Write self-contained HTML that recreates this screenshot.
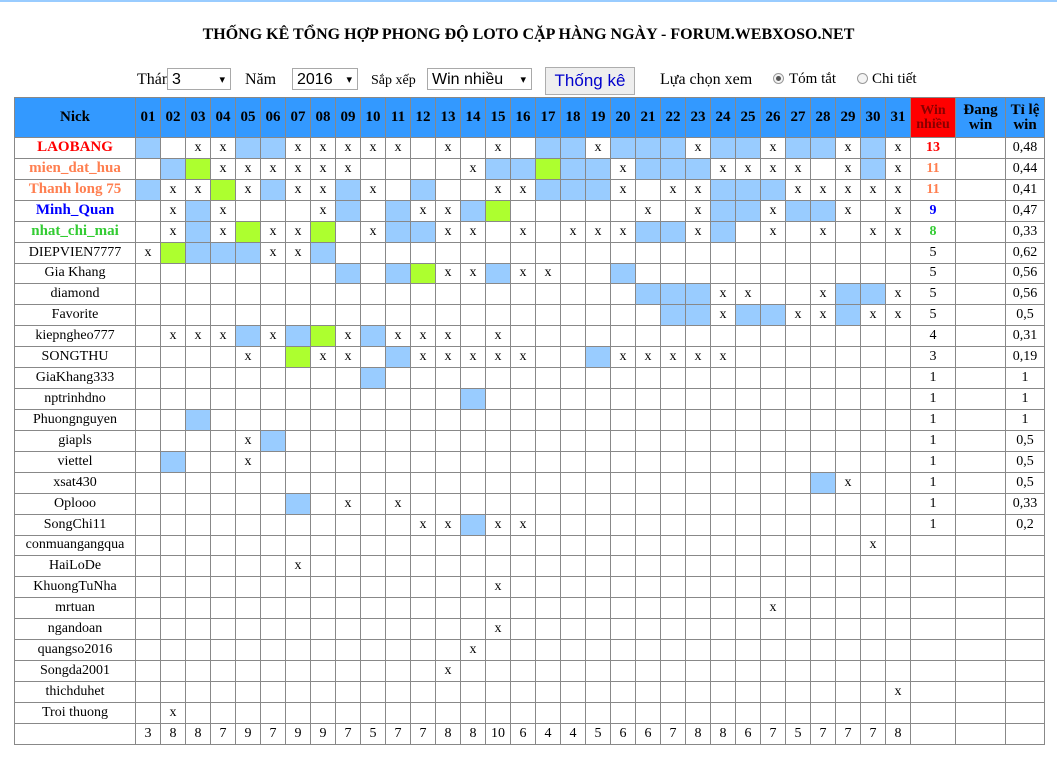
<!DOCTYPE html>
<html><head><meta charset="utf-8">
<style>
body{margin:0;width:1057px;height:765px;background:#fff;font-family:"Liberation Serif",serif;position:relative;overflow:hidden}
#topline{position:absolute;left:0;top:0;width:1057px;height:2px;background:#9cf}
#title{position:absolute;left:0;width:1057px;top:26px;text-align:center;font-weight:bold;font-size:16px}
.lbl{position:absolute;top:71px;font-size:16px}
.sel{position:absolute;top:68px;height:22px;border:1px solid #a9a9a9;background:#fff;font-family:"Liberation Sans",sans-serif;font-size:16px;line-height:22px;padding-left:4px;box-sizing:border-box}
.sel:after{content:"▾";position:absolute;right:5px;top:0;font-size:11px}
#btn{position:absolute;left:545px;top:67px;width:90px;height:28px;border:1px solid #adadad;background:#eee;color:#00c;font-family:"Liberation Sans",sans-serif;font-size:17px;line-height:26px;text-align:center;box-sizing:border-box}
.radio{position:absolute;top:73px;width:11px;height:11px;border:1px solid #999;border-radius:50%;box-sizing:border-box;background:#f4f4f4}
#grid{position:absolute;left:14px;top:97px;display:grid;grid-template-columns:120px repeat(31,24px) 44px 49px 38px;grid-template-rows:39px repeat(29,19.93px);gap:1px;padding:1px;background:#888}
#grid div{background:#fff;display:flex;align-items:center;justify-content:center;font-size:14px;overflow:hidden;white-space:nowrap}
#grid .h{background:#3399ff;font-weight:bold;font-size:15px;text-align:center;line-height:15px}
#grid .hr{background:#f00;color:#800;font-weight:bold;font-size:14px;text-align:center;line-height:14px}
#grid .b{background:#99ccff}
#grid .g{background:#adff2f}
</style></head><body>
<div id="topline"></div>
<div id="title">THỐNG KÊ TỔNG HỢP PHONG ĐỘ LOTO CẶP HÀNG NGÀY - FORUM.WEBXOSO.NET</div>
<span class="lbl" style="left:137px">Tháng</span>
<div class="sel" style="left:167px;width:64px">3</div>
<span class="lbl" style="left:245px">Năm</span>
<div class="sel" style="left:292px;width:66px">2016</div>
<span class="lbl" style="left:371px;font-size:14px;top:73px">Sắp xếp</span>
<div class="sel" style="left:427px;width:105px">Win nhiều</div>
<div id="btn">Thống kê</div>
<span class="lbl" style="left:660px">Lựa chọn xem</span>
<div class="radio" style="left:773px"><div style="width:5px;height:5px;border-radius:50%;background:#555;margin:2px"></div></div>
<span class="lbl" style="left:789px;font-size:15px">Tóm tắt</span>
<div class="radio" style="left:857px"></div>
<span class="lbl" style="left:872px;font-size:15px">Chi tiết</span>
<div id="grid"></div>
<script>
const names=["LAOBANG","mien_dat_hua","Thanh long 75","Minh_Quan","nhat_chi_mai","DIEPVIEN7777","Gia Khang","diamond","Favorite","kiepngheo777","SONGTHU","GiaKhang333","nptrinhdno","Phuongnguyen","giapls","viettel","xsat430","Oplooo","SongChi11","conmuangangqua","HaiLoDe","KhuongTuNha","mrtuan","ngandoan","quangso2016","Songda2001","thichduhet","Troi thuong"];
const nameColors=["#f00","#ff7f50","#ff7f50","#00f","#3c3"];
const cells=[
"b.xxbbxxxxx.x.x.bbxbbbxbbxbbxbx",
".bgxxxxxx....xbbgbbxbbbxxxx.xbx",
"bxxgxbxxbx.b..xxbbbx.xxbbbxxxxx",
".xbx...xb.bxxbg.....x.xbbxbbx.x",
".xbxgxxg.xbbxx.x.xxxbbxb.x.x.xx",
"xgbbbxxb.......................",
"........b.bgxxbxx..b...........",
"....................bbbxx..xbbx",
".....................bbxbbxxbxx",
".xxxbxbgxbxxx.x................",
"....x.gxx.bxxxxx..bxxxxx.......",
".........b.....................",
".............b.................",
"..b............................",
"....xb.........................",
".b..x..........................",
"...........................bx..",
"......b.x.x....................",
"...........xxbxx...............",
".............................x.",
"......x........................",
"..............x................",
".........................x.....",
"..............x................",
".............x.................",
"............x..................",
"..............................x",
".x............................."];
const wins=["13","11","11","9","8","5","5","5","5","4","3","1","1","1","1","1","1","1","1","","","","","","","","",""];
const rates=["0,48","0,44","0,41","0,47","0,33","0,62","0,56","0,56","0,5","0,31","0,19","1","1","1","0,5","0,5","0,5","0,33","0,2","","","","","","","","",""];
const totals=[3,8,8,7,9,7,9,9,7,5,7,7,8,8,10,6,4,4,5,6,6,7,8,8,6,7,5,7,7,7,8];
const g=document.getElementById('grid');
function add(txt,cls,name,inter){const d=document.createElement('div');d.innerHTML=txt;if(cls)d.className=cls;


g.appendChild(d);return d;}
add('Nick','h','nick-header',false);
for(let i=1;i<=31;i++)add(String(i).padStart(2,'0'),'h','day-header',false);
add('Win<br>nhiều','hr','win-header',false);
add('Đang<br>win','h','current-win-header',false);
add('Tỉ lệ<br>win','h','win-rate-header',false);
names.forEach((n,r)=>{
 const d=add(n,'','nick-cell',false);
 if(r<5){d.style.color=nameColors[r];d.style.fontWeight='bold';d.style.fontSize='15px';}
 for(let c=0;c<31;c++){const ch=cells[r][c];
  add(ch==='x'?'x':'',ch==='b'?'b':ch==='g'?'g':'','day-cell',false);}
 const w=add(wins[r],'','win-count',false);
 if(r<5){w.style.color=nameColors[r];w.style.fontWeight='bold';}
 add('','','current-win',false);
 add(rates[r],'','win-rate',false);
});
add('','','total-label',false);
totals.forEach(t=>add(String(t),'','day-total',false));
add('','','total-win',false);add('','','total-current',false);add('','','total-rate',false);
</script>
</body></html>
